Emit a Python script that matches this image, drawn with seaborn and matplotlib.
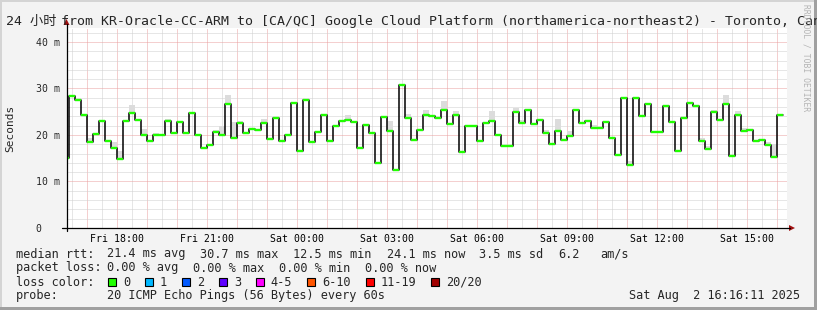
import numpy as np
import pandas as pd
import matplotlib
matplotlib.use("Agg")
import matplotlib.pyplot as plt
import seaborn as sns
from matplotlib.lines import Line2D
from matplotlib.patches import Rectangle, Polygon

# ---------------- data ----------------
median_ms = [15.0, 28.3, 27.5, 24.4, 18.4, 20.3, 22.9, 18.6, 17.3, 14.8,
             22.9, 24.7, 23.2, 20.1, 18.6, 19.9, 19.9, 22.9, 20.4, 22.7,
             20.4, 24.7, 20.1, 17.1, 17.8, 20.6, 19.9, 26.7, 19.3, 22.5,
             20.4, 21.2, 21.0, 22.5, 19.1, 23.6, 18.6, 19.9, 26.8, 16.5,
             27.5, 18.4, 20.6, 24.4, 18.6, 21.9, 22.9, 23.2, 22.7, 17.1,
             22.1, 20.4, 13.9, 23.8, 20.8, 12.5, 30.7, 23.6, 18.9, 21.0,
             24.4, 24.0, 23.6, 25.3, 22.3, 24.2, 16.3, 21.9, 21.9, 18.6,
             22.5, 22.9, 19.9, 17.6, 17.6, 24.9, 22.5, 25.3, 22.3, 23.2,
             20.4, 18.0, 20.8, 18.9, 19.7, 25.3, 22.5, 22.9, 21.6, 21.6,
             22.7, 19.3, 15.8, 27.9, 13.5, 27.9, 24.0, 26.6, 20.6, 20.6,
             26.2, 22.7, 16.5, 23.6, 26.8, 26.2, 18.6, 16.9, 24.9, 23.2,
             26.6, 15.4, 24.2, 20.8, 21.0, 18.6, 18.9, 17.8, 15.2, 24.2]
smoke_steps = [4, 8, 9, 11, 13, 15, 17, 21, 25, 26, 27, 28, 29, 33, 34, 35,
               42, 47, 54, 57, 60, 63, 65, 71, 75, 76, 80, 82, 84, 88, 94,
               106, 107, 108, 110, 112, 113, 117, 118, 119]
smoke_top_ms = [19.4, 18.4, 16.5, 26.5, 21.3, 20.4, 23.4, 25.0, 21.1, 21.9,
                28.7, 22.8, 23.0, 23.5, 19.4, 23.9, 20.9, 24.4, 22.9, 24.6,
                25.4, 27.2, 25.2, 25.2, 25.9, 23.2, 21.1, 23.5, 20.9, 22.2,
                14.5, 19.3, 17.6, 25.4, 28.5, 25.2, 21.4, 18.4, 18.1, 24.6]
step_hours = 0.2              # 12 minute steps
first_step_hour = 16.2        # hours after Fri 00:00
x_range_hours = [16.32, 40.32]
x_tick_hours = [18, 21, 24, 27, 30, 33, 36, 39]
x_tick_labels = ["Fri 18:00", "Fri 21:00", "Sat 00:00", "Sat 03:00",
                 "Sat 06:00", "Sat 09:00", "Sat 12:00", "Sat 15:00"]
y_ticks = [0, 10, 20, 30, 40]
y_tick_labels = ["0   ", "10 m", "20 m", "30 m", "40 m"]
loss_labels = ["0", "1", "2", "3", "4-5", "6-10", "11-19", "20/20"]
loss_colors = ["#20ff00", "#00b8ff", "#0059ff", "#5e00ff", "#ff00ff",
               "#ff5500", "#ff0000", "#a00000"]
title_head = "24 小时"
title_tail = ("from KR-Oracle-CC-ARM to [CA/QC] Google Cloud Platform "
              "(northamerica-northeast2) - Toronto, Canada")
legend_rows = [
    [("median rtt:", 16), ("21.4 ms avg", 107), ("30.7 ms max", 200),
     ("12.5 ms min", 293), ("24.1 ms now", 387), ("3.5 ms sd", 479),
     ("6.2", 558), ("am/s", 600)],
    [("packet loss:", 16), ("0.00 % avg", 107), ("0.00 % max", 193),
     ("0.00 % min", 279), ("0.00 % now", 365)],
]
probe_text = "20 ICMP Echo Pings (56 Bytes) every 60s"
date_text = "Sat Aug  2 16:16:11 2025"

# ---------------- figure ----------------
W, H = 817, 310
sns.set_theme(style="white")
MONO = ["DejaVu Sans Mono", "Noto Sans CJK SC"]
plt.rcParams["font.family"] = MONO

fig = plt.figure(figsize=(W / 100, H / 100), dpi=100, facecolor="#f3f3f3")


def fx(x):
    return x / W


def fy(y):
    return 1 - y / H


# border
fig.add_artist(Rectangle((0, fy(2)), 1, 2 / H, transform=fig.transFigure,
                         color="#d4d4d4", lw=0))
fig.add_artist(Rectangle((0, 0), 2 / W, 1, transform=fig.transFigure,
                         color="#d4d4d4", lw=0))
fig.add_artist(Rectangle((0, 0), 1, 3 / H, transform=fig.transFigure,
                         color="#a0a0a0", lw=0))
fig.add_artist(Rectangle((fx(W - 3), 0), 3 / W, 1, transform=fig.transFigure,
                         color="#a0a0a0", lw=0))

ax_left, ax_right, ax_top, ax_bot = 67, 787, 28, 228
ax = fig.add_axes([fx(ax_left), fy(ax_bot), (ax_right - ax_left) / W,
                   (ax_bot - ax_top) / H])
ax.set_facecolor("white")
ax.set_xlim(*x_range_hours)
ax.set_ylim(0, 43)

# grid
for h in np.arange(16.5, 40.4, 0.5):
    if abs(h - round(h)) > 1e-6:
        ax.axvline(h, color="#cfcfcf", lw=0.72, ls=(0, (1, 1)), zorder=0)
for h in np.arange(17, 41, 1):
    ax.axvline(h, color="#eaa0a0", lw=0.72, ls=(0, (1, 1)), zorder=0)
for v in np.arange(2, 43, 2):
    if v % 10:
        ax.axhline(v, color="#cfcfcf", lw=0.72, ls=(0, (1, 1)), zorder=0)
for v in [10, 20, 30, 40]:
    ax.axhline(v, color="#eaa0a0", lw=0.72, ls=(0, (1, 1)), zorder=0)

n = len(median_ms)
starts = first_step_hour + np.arange(n) * step_hours
ends = starts + step_hours
med = np.array(median_ms)

# smoke
sm_idx = np.array(smoke_steps)
ax.bar(starts[sm_idx], np.array(smoke_top_ms) - med[sm_idx],
       bottom=med[sm_idx], width=step_hours, align="edge",
       color="#dcdcdc", lw=0, zorder=1)

# step line
df = pd.DataFrame({"hour": np.append(starts, ends[-1]),
                   "rtt": np.append(med, med[-1])})
sns.lineplot(data=df, x="hour", y="rtt", drawstyle="steps-post",
             color="black", lw=1.1, ax=ax, estimator=None, zorder=2)
ax.hlines(med, starts, ends, colors=loss_colors[0], lw=1.7, zorder=3,
          capstyle="butt")

for s in ax.spines.values():
    s.set_visible(False)
ax.set_xlabel("")
ax.set_ylabel("")

# ticks
ax.set_xticks(x_tick_hours, x_tick_labels)
ax.set_xticks(np.arange(17, 41, 1), minor=True)
ax.tick_params(axis="x", which="both", direction="out", length=2,
               width=0.72, color="#e08080", pad=2.2, labelsize=7.1,
               labelcolor="black")
ax.set_yticks(y_ticks, y_tick_labels)
ax.set_yticks(np.arange(2, 43, 2), minor=True)
ax.tick_params(axis="y", which="major", direction="out", length=3,
               width=0.72, color="black", pad=1.8, labelsize=7.1)
ax.tick_params(axis="y", which="minor", direction="out", length=2,
               width=0.72, color="#b0b0b0")
for lab in ax.get_xticklabels() + ax.get_yticklabels():
    lab.set_family(MONO)

# axis lines with arrows
fig.add_artist(Line2D([fx(62), fx(790)], [fy(228), fy(228)],
                      transform=fig.transFigure, color="black", lw=0.9))
fig.add_artist(Line2D([fx(66.5), fx(66.5)], [fy(231), fy(24)],
                      transform=fig.transFigure, color="black", lw=0.9))
fig.add_artist(Polygon([(fx(789), fy(225)), (fx(795), fy(228)),
                        (fx(789), fy(231))], closed=True,
                       transform=fig.transFigure, color="#a01010", lw=0))
fig.add_artist(Polygon([(fx(63.5), fy(25)), (fx(66.5), fy(19)),
                        (fx(69.5), fy(25))], closed=True,
                       transform=fig.transFigure, color="#a01010", lw=0))

# texts
fig.text(fx(6), fy(22), title_head, fontsize=9.5, family=MONO, va="center",
         ha="left")
fig.text(fx(61.5), fy(22), title_tail, fontsize=9.5, family=MONO,
         va="center", ha="left")
fig.text(fx(10), fy(128), "Seconds", rotation=90, fontsize=8, family=MONO,
         va="center", ha="center")
fig.text(fx(806), fy(4), "RRDTOOL / TOBI OETIKER", rotation=270,
         fontsize=5.8, family=MONO, va="top", ha="center", color="#b4b4b4")

row_y = [254, 268, 282, 296]
for r, row in enumerate(legend_rows):
    for txt, x in row:
        fig.text(fx(x), fy(row_y[r]), txt, fontsize=8.6, family=MONO,
                 va="center", ha="left")

fig.text(fx(16), fy(row_y[2]), "loss color:", fontsize=8.6, family=MONO,
         va="center", ha="left")
char_w = 7.17
sq_x = 108
for lab, col in zip(loss_labels, loss_colors):
    fig.add_artist(Rectangle((fx(sq_x), fy(row_y[2] + 4)), 8 / W, 8 / H,
                             transform=fig.transFigure, facecolor=col,
                             edgecolor="black", lw=0.8))
    lx = sq_x + 15
    fig.text(fx(lx), fy(row_y[2]), lab, fontsize=8.6, family=MONO,
             va="center", ha="left")
    sq_x = lx + len(lab) * char_w + 14.8

fig.text(fx(16), fy(row_y[3]), "probe:", fontsize=8.6, family=MONO,
         va="center", ha="left")
fig.text(fx(107), fy(row_y[3]), probe_text, fontsize=8.6, family=MONO,
         va="center", ha="left")
fig.text(fx(800), fy(row_y[3]), date_text, fontsize=8.6, family=MONO,
         va="center", ha="right")

fig.savefig("out.png", dpi=100, facecolor=fig.get_facecolor())
